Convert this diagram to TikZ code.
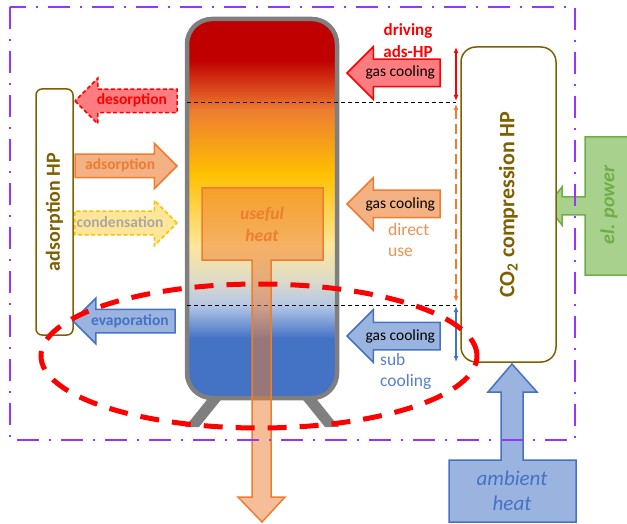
\documentclass[tikz,border=0pt]{standalone}
\usepackage{fontspec}
\setmainfont{Carlito}
\usetikzlibrary{shapes.arrows,arrows.meta}

\definecolor{hpgold}{HTML}{7F6000}
\definecolor{framepurple}{HTML}{9933FF}
\definecolor{hotred}{HTML}{FF0000}
\definecolor{hotredfill}{HTML}{FF7C80}
\definecolor{warmorange}{HTML}{ED7D31}
\definecolor{warmorangefill}{HTML}{F4B183}
\definecolor{condyellow}{HTML}{FFC000}
\definecolor{condyellowfill}{HTML}{FFE699}
\definecolor{condgray}{HTML}{ABA8A3}
\definecolor{coldblue}{HTML}{4472C4}
\definecolor{coldbluefill}{HTML}{9AB3DF}
\definecolor{powergreen}{HTML}{70AD47}
\definecolor{powergreenfill}{HTML}{A9D18E}
\definecolor{tankred}{HTML}{C00000}
\definecolor{tankmist}{HTML}{DDDBC8}
\definecolor{tankice}{HTML}{B4C7E7}
\definecolor{tankgray}{HTML}{7F7F7F}

\begin{document}
\begin{tikzpicture}[
    x=1pt, y=-1pt,
    tank/.style={
        draw=tankgray,
        line width=4.5pt,
        rounded corners=25pt,
        minimum width=150pt,
        minimum height=379pt,
        inner sep=0pt,
        outer sep=0pt,
        path picture={
            % picture drawn from the tank's centre, y downwards
            \begin{scope}[sharp corners]
                \fill[tankred] (-80,-195) rectangle (80,-148);
                \shade[top color=tankred, bottom color=warmorange] (-80,-148.5) rectangle (80,-98);
                \shade[top color=warmorange, bottom color=condyellow] (-80,-98.5) rectangle (80,-35);
                \shade[top color=condyellow, bottom color=condyellowfill] (-80,-35.5) rectangle (80,37);
                \shade[top color=condyellowfill, bottom color=tankmist] (-80,36.5) rectangle (80,72);
                \shade[top color=tankmist, bottom color=tankice] (-80,71.5) rectangle (80,97);
                \shade[top color=tankice, bottom color=coldblue] (-80,96.5) rectangle (80,130);
                \fill[coldblue] (-80,129.5) rectangle (80,195);
            \end{scope}
        }
    },
    hpbox/.style={
        draw=hpgold,
        line width=1.5pt,
        fill=white,
        inner sep=0pt,
        outer sep=0pt,
        text=hpgold,
        font=\fontsize{20}{24}\selectfont\bfseries
    },
    stage/.style={
        single arrow,
        single arrow head extend=11pt,
        minimum height=102pt,
        line width=1.5pt,
        inner xsep=1pt,
        inner ysep=0pt,
        outer sep=0pt,
        text height=15pt,
        text depth=7pt,
        font=\fontsize{15.5}{17}\selectfont\bfseries
    },
    leftward/.style={shape border rotate=180},
    gascooler/.style={
        stage,
        leftward,
        single arrow head extend=12.5pt,
        minimum height=93pt,
        text height=17pt,
        text depth=9pt,
        text=black,
        font=\fontsize{15.5}{17}\selectfont
    },
    level/.style={draw=black, line width=0.9pt, dash pattern=on 4pt off 3pt},
    span/.style={line width=1.5pt, {Latex[length=6pt,width=5pt]}-{Latex[length=6pt,width=5pt]}},
    note/.style={inner sep=0pt, align=left, anchor=west, font=\fontsize{17.5}{21}\selectfont},
    callout/.style={line width=1.5pt},
    frame/.style={draw=framepurple, line width=2.5pt, dash pattern=on 22pt off 10pt on 2pt off 10pt},
    heatzone/.style={draw=hotred, line width=5pt, dash pattern=on 19pt off 13pt}
]
    \useasboundingbox (0,0) rectangle (627,524);

    % ==========================================
    % STORAGE TANK
    % ==========================================

    % legs
    \fill[tankgray] (210,396) -- (224,396) -- (199,427) -- (185,427) -- cycle;
    \fill[tankgray] (314,396) -- (300,396) -- (325,427) -- (339,427) -- cycle;

    % stratified tank
    \node[tank] (tank) at (262,208.5) {};

    % temperature levels
    \coordinate (hot mark) at (456,102);
    \coordinate (cold mark) at (456,305);
    \draw[level] (tank.west |- hot mark) -- (hot mark);
    \draw[level] (tank.west |- cold mark) -- (cold mark);

    % useful heat out of the tank
    \path[callout, draw=warmorange, fill=warmorange, fill opacity=0.5]
        (202,188) -- (323,188) -- (323,260) -- (271,260) -- (271,497) -- (285,497)
        -- (262,522) -- (238,497) -- (252,497) -- (252,260) -- (202,260) -- cycle;
    \node[text=warmorange, align=center, font=\fontsize{17.5}{22}\selectfont\bfseries\itshape] (useful) at (262,224) {useful\\heat};

    % ==========================================
    % EXTERNAL INPUTS
    % ==========================================

    % ambient heat
    \path[callout, draw=coldblue, fill=coldbluefill]
        (449,522) -- (449,460) -- (501,460) -- (501,392) -- (488,392) -- (512,364)
        -- (537,392) -- (523,392) -- (523,460) -- (576,460) -- (576,522) -- cycle;
    \node[text=coldblue, align=center, font=\fontsize{21}{25}\selectfont\itshape] (ambient) at (512,490.5) {ambient\\heat};

    % electric power
    \path[callout, draw=powergreen, fill=powergreenfill]
        (632,137) -- (585,137) -- (585,197) -- (562,197) -- (562,187) -- (547,206)
        -- (562,225) -- (562,215) -- (585,215) -- (585,275) -- (632,275);
    \node[rotate=90, text=powergreen, font=\fontsize{20}{24}\selectfont\bfseries\itshape] (elpower) at (609,205) {el. power};

    % system boundary
    \draw[frame] (10,7) rectangle (575,440);

    % ==========================================
    % HEAT PUMPS
    % ==========================================

    \node[hpbox, rounded corners=6pt, minimum width=37pt, minimum height=246pt] (adsHP) at (54.5,212) {\rotatebox{90}{adsorption HP}};
    \node[hpbox, rounded corners=15pt, minimum width=95pt, minimum height=315pt, font=\fontsize{22}{26}\selectfont\bfseries] (co2HP) at (508.5,204.5) {\rotatebox{90}{CO\textsubscript{2} compression HP}};

    % ==========================================
    % HEAT FLOWS
    % ==========================================

    % adsorption HP <-> tank
    \node[stage, leftward, draw=hotred, dash pattern=on 4pt off 2.5pt, fill=hotredfill, text=hotred, anchor=tip] (desorb) at (75,101) {desorption};
    \node[stage, draw=warmorange, fill=warmorangefill, text=warmorange, anchor=tip] (adsorb) at (177,166) {adsorption};
    \node[stage, draw=condyellow, dash pattern=on 4pt off 2.5pt, fill=condyellowfill, text=condgray, anchor=tip] (condense) at (177,223) {condensation};
    \node[stage, leftward, draw=coldblue, fill=coldbluefill, text=coldblue, anchor=tip] (evap) at (73,321) {evaporation};

    % CO2 HP -> tank
    \node[gascooler, draw=hotred, fill=hotredfill, anchor=tip] (gcDrive) at (347,73) {gas cooling};
    \node[gascooler, draw=warmorange, fill=warmorangefill, anchor=tip] (gcDirect) at (347,204) {gas cooling};
    \node[gascooler, draw=coldblue, fill=coldbluefill, anchor=tip] (gcSub) at (347,336) {gas cooling};

    \node[text=hotred, align=center, inner sep=0pt, font=\fontsize{17}{22}\selectfont\bfseries] (driving) at (408,41) {driving\\ads-HP};
    \node[note, text=warmorange!85!white] (directuse) at (388,239.5) {direct\\use};
    \node[note, text=coldblue!90!white] (subcool) at (380,371.5) {sub\\cooling};

    % temperature spans of the gas cooler
    \draw[span, hotred] (hot mark |- co2HP.north) -- ([yshift=1pt]hot mark);
    \draw[span, warmorange, dash pattern=on 10pt off 5pt] ([yshift=-2pt]hot mark) -- ([yshift=3pt]cold mark);
    \draw[span, coldblue] ([yshift=-1pt]cold mark) -- (cold mark |- co2HP.south);

    % low temperature zone
    \draw[heatzone] (259,356) ellipse [x radius=218pt, y radius=72pt];

\end{tikzpicture}
\end{document}
